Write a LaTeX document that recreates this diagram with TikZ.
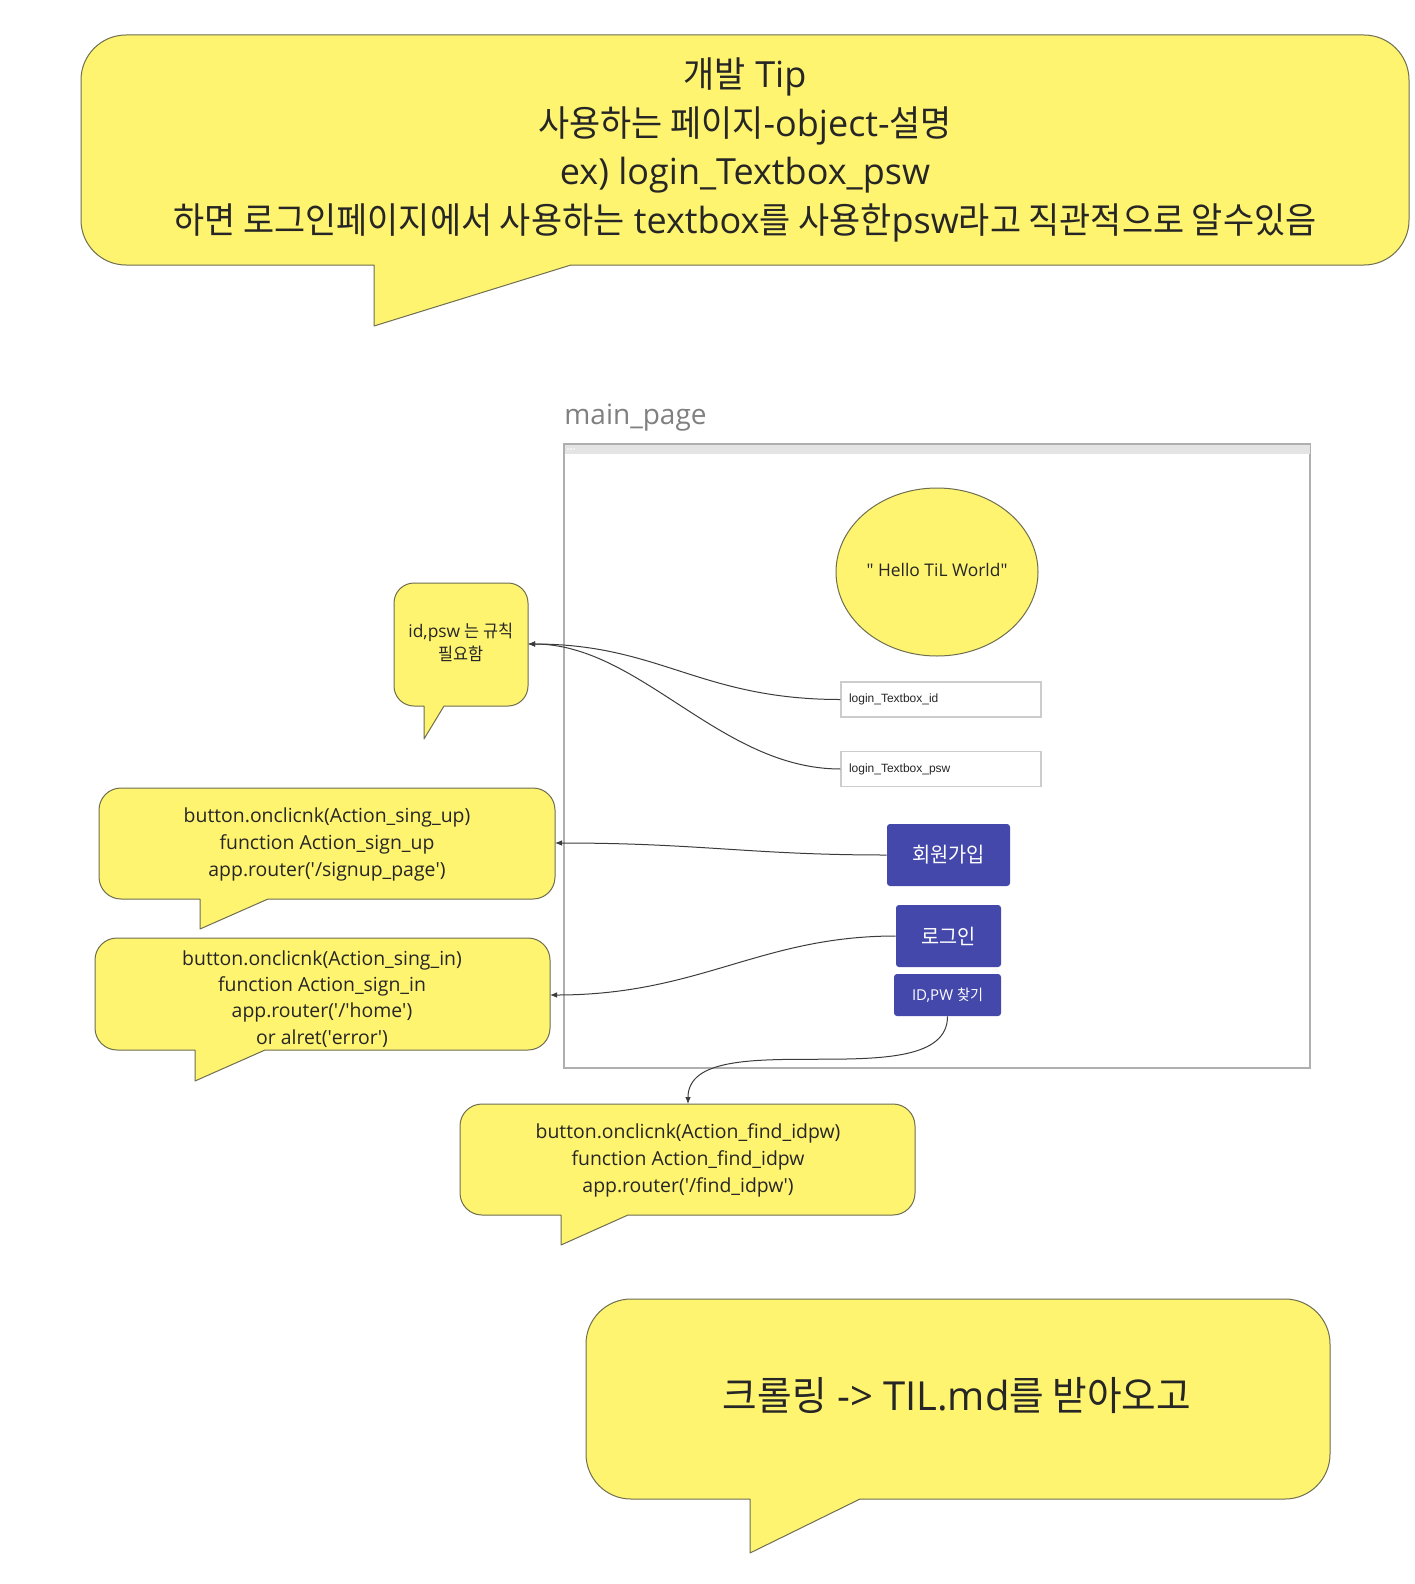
\documentclass[tikz,border=0pt]{standalone}
\usepackage{fontspec}
\setmainfont{Open Sans}
\newfontfamily\kr[FakeStretch=0.94]{Noto Sans CJK KR}
\newfontfamily\arialf{Liberation Sans}
\usetikzlibrary{shapes.geometric,arrows.meta}
\definecolor{bub}{RGB}{255,244,112}
\definecolor{bubline}{RGB}{110,110,80}
\definecolor{btn}{RGB}{68,72,170}
\definecolor{connc}{RGB}{60,60,60}
\definecolor{framec}{RGB}{175,175,175}
\definecolor{headc}{RGB}{228,228,228}
\newcommand{\myq}{\textquotesingle}
\newcommand{\mydq}{\textquotedbl}
% x1 y1 x2 y2 r tailL tailR tipY
\newcommand{\bubble}[8]{%
  \filldraw[bubstyle] (#7,#4) -- ({#3-#5},#4)
    .. controls ({#3-0.448*#5},#4) and (#3,{#4-0.448*#5}) .. (#3,{#4-#5})
    -- (#3,{#2+#5})
    .. controls (#3,{#2+0.448*#5}) and ({#3-0.448*#5},#2) .. ({#3-#5},#2)
    -- ({#1+#5},#2)
    .. controls ({#1+0.448*#5},#2) and (#1,{#2+0.448*#5}) .. (#1,{#2+#5})
    -- (#1,{#4-#5})
    .. controls (#1,{#4-0.448*#5}) and ({#1+0.448*#5},#4) .. ({#1+#5},#4)
    -- (#6,#4) -- (#6,#8) -- cycle;}
\begin{document}
\begin{tikzpicture}[x=0.5pt,y=-0.5pt,
  bubstyle/.style={fill=bub,draw=bubline,line width=0.5pt,line join=round},
  conn/.style={draw=connc,line width=0.5pt,-{Latex[length=3.5pt,width=2.8pt]}},
  tbox/.style={draw=black!20,fill=white,line width=0.6pt,text width=92pt,inner xsep=4pt,minimum height=17.5pt,align=left,font=\arialf\fontsize{6}{7}\selectfont,text=black!85},
  btnstyle/.style={fill=btn,rounded corners=1.5pt,text=white,inner sep=0pt},
  txt/.style={align=center,text=black!85}]
\useasboundingbox (0,0) rectangle (1414,1584);
\fill[white] (0,0) rectangle (1414,1584);

% top tip bubble
\bubble{81}{35}{1409}{265}{45}{374}{571}{326}
\node[txt,font=\fontsize{18}{24.25}\selectfont] (tiptxt) at (745,150)
  {{\kr 개발} Tip\\{\kr 사용하는 페이지}-object-{\kr 설명}\\ex) login\_Textbox\_psw\\{\kr 하면 로그인페이지에서 사용하는} textbox{\kr 를 사용한}psw{\kr 라고 직관적으로 알수있음}};

% main page frame
\node[anchor=west,text=black!50,font=\fontsize{14}{16}\selectfont,inner sep=0pt] (mplabel) at (564,418) {main\_page};
\draw[framec,line width=0.6pt,fill=white] (564,444) rectangle (1310,1068);
\fill[headc] (564.5,444.5) rectangle (1309.5,454);
\foreach \dx in {568,571,574} \fill[white] (\dx,449) circle (0.9);

\node[ellipse,fill=bub,draw=bubline,line width=0.5pt,minimum width=101pt,minimum height=84pt,inner sep=0pt,font=\fontsize{8.7}{10}\selectfont] (hello) at (937,572) {};
\node[txt,font=\fontsize{8.7}{10}\selectfont] (hellotxt) at (937,570) {\mydq{} Hello TiL World\mydq};

\node[tbox] (tbid) at (941,699.5) {login\_Textbox\_id};
\node[tbox] (tbpsw) at (941,769) {login\_Textbox\_psw};

\node[btnstyle,minimum width=61.5pt,minimum height=31pt,font=\kr\fontsize{10.5}{12}\selectfont] (signup) at (948.5,855) {회원가입};
\node[btnstyle,minimum width=52.5pt,minimum height=31pt,font=\kr\fontsize{10.5}{12}\selectfont] (login) at (948.5,936) {로그인};
\node[btnstyle,minimum width=53.5pt,minimum height=21pt,font=\fontsize{7.5}{9}\selectfont] (findbtn) at (947.5,995) {ID,PW {\kr 찾기}};

% id,psw bubble
\bubble{394}{583}{528}{706}{20}{424}{444}{739}
\node[txt,font=\fontsize{8.7}{11.6}\selectfont] (idtxt) at (461,642.5) {id,psw {\kr 는 규칙}\\{\kr 필요함}};
\coordinate (idE) at (528,644);

% sign up bubble
\bubble{99}{788}{555}{899}{22}{200}{268}{929}
\node[txt,font=\fontsize{9.7}{13.4}\selectfont] (suptxt) at (327,844.5) {button.onclicnk(Action\_sing\_up)\\function Action\_sign\_up\\app.router(\myq/signup\_page\myq)};
\coordinate (supE) at (555,843);

% sign in bubble
\bubble{95}{938}{550}{1050}{22}{195}{265}{1081}
\node[txt,font=\fontsize{9.7}{13.1}\selectfont] (sintxt) at (322,999) {button.onclicnk(Action\_sing\_in)\\function Action\_sign\_in\\app.router(\myq/\myq home\myq)\\or alret(\myq error\myq)};
\coordinate (sinE) at (550,995);

% find bubble
\bubble{460}{1104}{915}{1215}{22}{561}{628}{1245}
\node[txt,font=\fontsize{9.7}{13.4}\selectfont] (findtxt) at (688,1160.5) {button.onclicnk(Action\_find\_idpw)\\function Action\_find\_idpw\\app.router(\myq/find\_idpw\myq)};
\coordinate (findN) at (688,1104);

% bottom bubble
\bubble{586}{1299}{1330}{1499}{45}{750}{860}{1553}
\node[txt,font=\fontsize{20}{24}\selectfont] (crawl) at (957,1396) {{\kr 크롤링} -> TIL.md{\kr 를 받아오고}};

% connectors
\draw[conn] (tbid.west) .. controls (700,699.5) and (660,644) .. (idE);
\draw[conn] (tbpsw.west) .. controls (720,769) and (640,644) .. (idE);
\draw[conn] (signup.west) .. controls (750,855) and (700,843) .. (supE);
\draw[conn] (login.west) .. controls (760,936) and (700,995) .. (sinE);
\draw[conn] (findbtn.south) .. controls (947.5,1100) and (688,1020) .. (findN);
\end{tikzpicture}
\end{document}
